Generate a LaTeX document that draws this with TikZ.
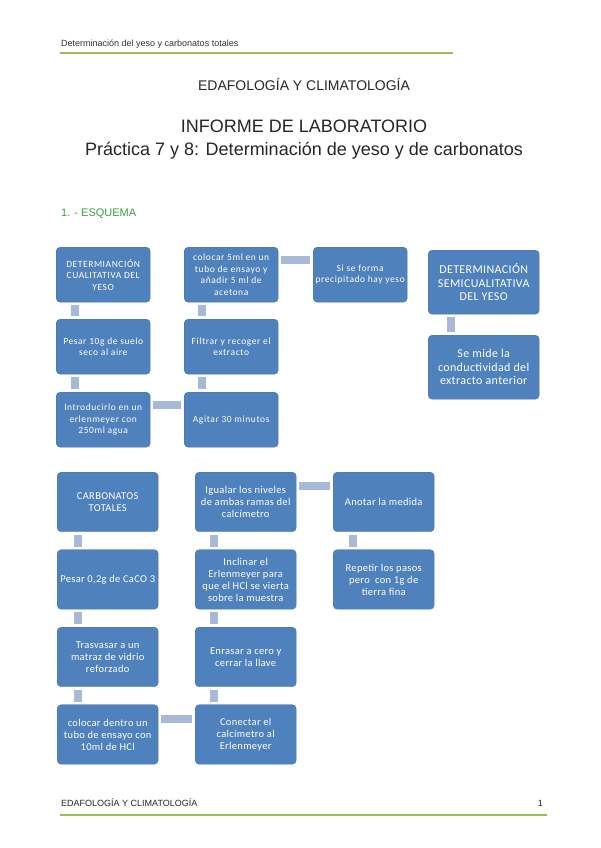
\documentclass[tikz,border=0pt]{standalone}
\usepackage{fontspec}
\setmainfont{Liberation Sans}
\newfontfamily\boxfont[LetterSpace=6]{Carlito}
\newfontfamily\lowfont[LetterSpace=3]{Carlito}
\usetikzlibrary{positioning}
\definecolor{boxblue}{HTML}{4F81BD}
\definecolor{boxedge}{HTML}{4675AE}
\definecolor{linkblue}{HTML}{A7B9D6}
\definecolor{rulegreen}{HTML}{9BBB59}
\definecolor{headgreen}{HTML}{3E9F3E}

\tikzset{
  stepbox/.style={draw=boxedge, line width=0.4pt, fill=boxblue, rounded corners=4pt,
    anchor=north west, text=white, align=center, inner sep=2pt},
  topbox/.style={stepbox, minimum width=94pt, minimum height=55pt,
    font=\boxfont\fontsize{9.5}{11.5}\selectfont},
  sidebox/.style={stepbox, minimum width=111pt, minimum height=64pt,
    font=\lowfont\fontsize{12}{13.5}\selectfont},
  lowbox/.style={stepbox, minimum width=101pt, minimum height=59.5pt,
    font=\lowfont\fontsize{10.5}{12}\selectfont},
  link/.style={draw=linkblue, line width=8pt, shorten <=3pt, shorten >=3pt},
}

\begin{document}
\begin{tikzpicture}[x=1pt, y=-1pt]

  % page
  \useasboundingbox[fill=white] (0,0) rectangle (600,848);

  % Header
  \node[anchor=west, inner sep=0pt, text=black!80, font=\fontsize{9}{11}\selectfont] (head) at (61,44)
    {Determinación del yeso y carbonatos totales};
  \draw[rulegreen, line width=1.5pt] (60,53) -- (453,53);

  % Titles
  \node[font=\fontsize{14}{16}\selectfont, text=black!85] (subject) at (304,84) {EDAFOLOGÍA Y CLIMATOLOGÍA};
  \node[font=\fontsize{18}{20}\selectfont, text=black!85] (report) at (304,126) {INFORME DE LABORATORIO};
  \node[font=\fontsize{18}{20}\selectfont, text=black!85] (practice) at (304,151)
    {Práctica 7 y 8: Determinación de yeso y de carbonatos};
  \node[anchor=west, inner sep=0pt, text=headgreen, font=\fontsize{11}{13}\selectfont] (scheme) at (61,214)
    {1. - ESQUEMA};

  % Yeso: cualitativa
  \node[topbox] (a1) at (56,247) {DETERMIANCIÓN\\CUALITATIVA DEL\\YESO};
  \node[topbox] (a2) at (56,319) {Pesar 10g de suelo\\seco al aire};
  \node[topbox] (a3) at (56,392) {Introducirlo en un\\erlenmeyer con\\250ml agua};
  \node[topbox] (b3) at (184,392) {Agitar 30 minutos};
  \node[topbox] (b2) at (184,319) {Filtrar y recoger el\\extracto};
  \node[topbox] (b1) at (184,247) {colocar 5ml en un\\tubo de ensayo y\\añadir 5 ml de\\acetona};
  \node[topbox] (c1) at (313,247) {Si se forma\\precipitado hay yeso};

  \draw[link] ([xshift=19pt]a1.south west) -- ([xshift=19pt]a2.north west);
  \draw[link] ([xshift=19pt]a2.south west) -- ([xshift=19pt]a3.north west);
  \draw[link] ([yshift=-13pt]a3.north east) -- ([yshift=-13pt]b3.north west);
  \draw[link] ([xshift=18pt]b3.north west) -- ([xshift=18pt]b2.south west);
  \draw[link] ([xshift=18pt]b2.north west) -- ([xshift=18pt]b1.south west);
  \draw[link] ([yshift=-13pt]b1.north east) -- ([yshift=-13pt]c1.north west);

  % Yeso: semicualitativa
  \node[sidebox] (d1) at (428,250) {DETERMINACIÓN\\SEMICUALITATIVA\\DEL YESO};
  \node[sidebox] (d2) at (428,335) {Se mide la\\conductividad del\\extracto anterior};
  \draw[link] ([xshift=23pt]d1.south west) -- ([xshift=23pt]d2.north west);

  % Carbonatos totales
  \node[lowbox] (e1) at (57,472) {CARBONATOS\\TOTALES};
  \node[lowbox] (e2) at (57,549.5) {Pesar 0,2g de CaCO 3};
  \node[lowbox] (e3) at (57,627) {Trasvasar a un\\matraz de vidrio\\reforzado};
  \node[lowbox] (e4) at (57,704.5) {colocar dentro un\\tubo de ensayo con\\10ml de HCl};
  \node[lowbox] (f4) at (195,704.5) {Conectar el\\calcímetro al\\Erlenmeyer};
  \node[lowbox] (f3) at (195,627) {Enrasar a cero y\\cerrar la llave};
  \node[lowbox] (f2) at (195,549.5) {Inclinar el\\Erlenmeyer para\\que el HCl se vierta\\sobre la muestra};
  \node[lowbox] (f1) at (195,472) {Igualar los niveles\\de ambas ramas del\\calcímetro};
  \node[lowbox] (g1) at (333,472) {Anotar la medida};
  \node[lowbox] (g2) at (333,549.5) {Repetir los pasos\\pero\ \ con 1g de\\tierra fina};

  \draw[link] ([xshift=20.5pt]e1.south west) -- ([xshift=20.5pt]e2.north west);
  \draw[link] ([xshift=20.5pt]e2.south west) -- ([xshift=20.5pt]e3.north west);
  \draw[link] ([xshift=20.5pt]e3.south west) -- ([xshift=20.5pt]e4.north west);
  \draw[link] ([yshift=-14pt]e4.north east) -- ([yshift=-14pt]f4.north west);
  \draw[link] ([xshift=19pt]f4.north west) -- ([xshift=19pt]f3.south west);
  \draw[link] ([xshift=19pt]f3.north west) -- ([xshift=19pt]f2.south west);
  \draw[link] ([xshift=19pt]f2.north west) -- ([xshift=19pt]f1.south west);
  \draw[link] ([yshift=-13.5pt]f1.north east) -- ([yshift=-13.5pt]g1.north west);
  \draw[link] ([xshift=19.5pt]g1.south west) -- ([xshift=19.5pt]g2.north west);

  % Footer
  \node[anchor=west, inner sep=0pt, text=black!85, font=\fontsize{9}{11}\selectfont] (foot) at (61,803)
    {EDAFOLOGÍA Y CLIMATOLOGÍA};
  \node[anchor=east, inner sep=0pt, text=black!85, font=\fontsize{9}{11}\selectfont] (page) at (543,803) {1};
  \draw[rulegreen, line width=1.5pt] (60,815) -- (547,815);

\end{tikzpicture}
\end{document}
